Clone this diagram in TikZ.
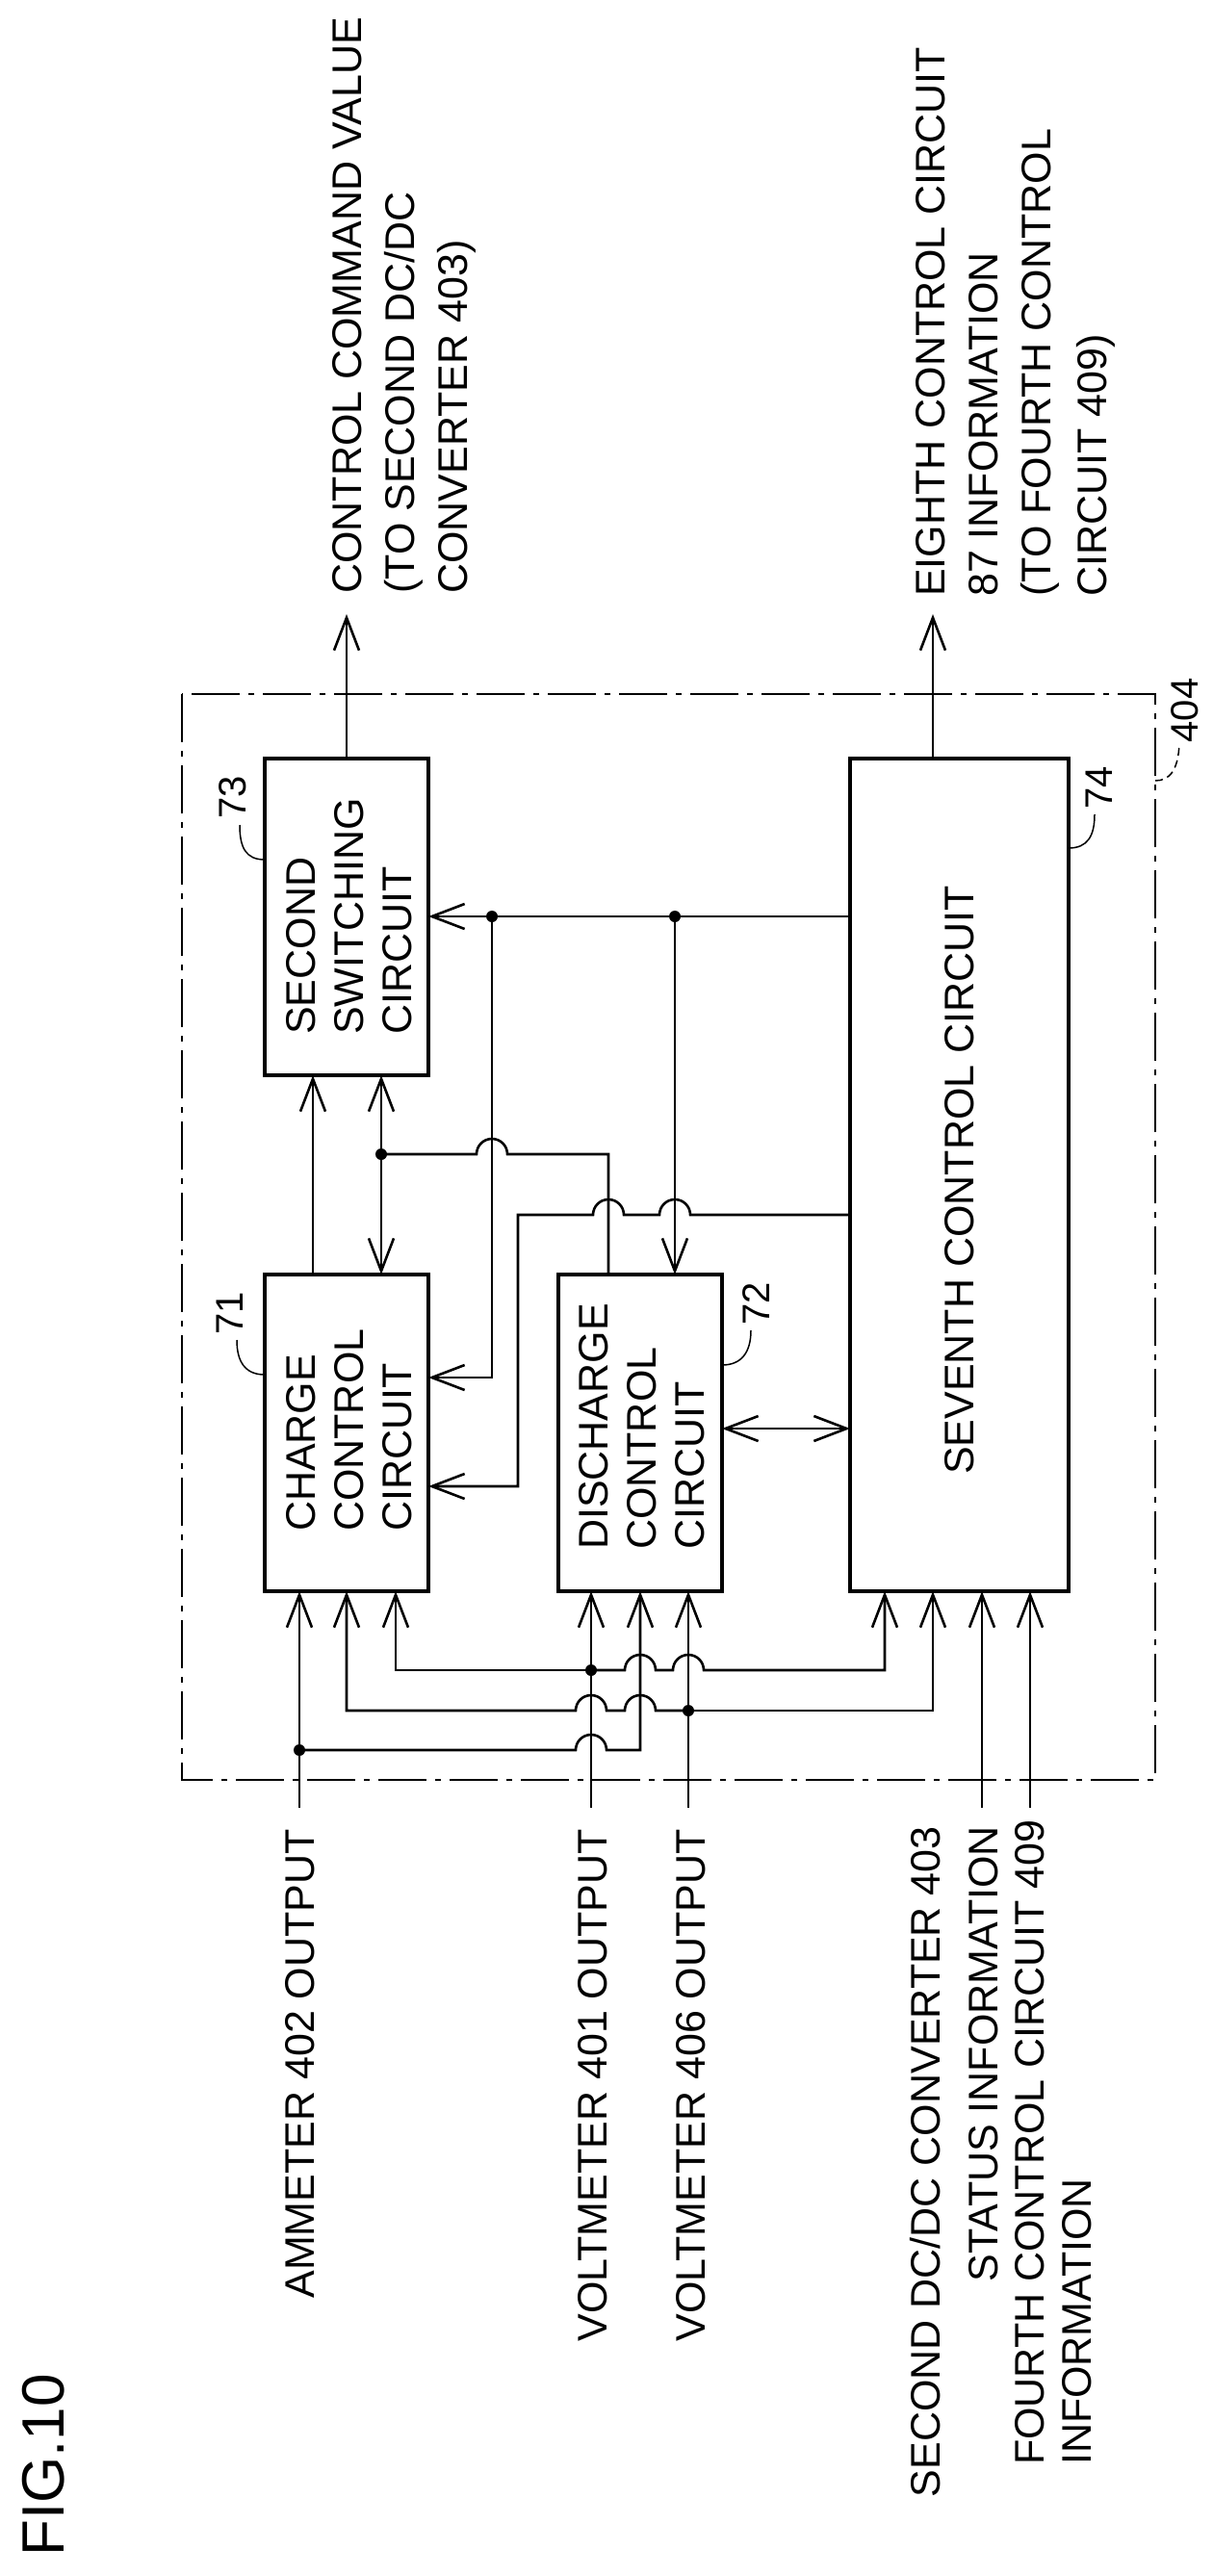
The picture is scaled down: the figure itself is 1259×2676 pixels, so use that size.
\documentclass[tikz,border=0pt]{standalone}
\usepackage{fontspec}
\setmainfont{Liberation Sans}
\usetikzlibrary{arrows.meta}
\begin{document}
\begin{tikzpicture}[x=1pt,y=1pt,
  ln/.style={line width=2.6pt},
  ar/.style={ln,-{Straight Barb[length=34pt,width=26pt,line width=2.6pt]}},
  dar/.style={ln,{Straight Barb[length=34pt,width=26pt,line width=2.6pt]}-{Straight Barb[length=34pt,width=26pt,line width=2.6pt]}},
  box/.style={draw,line width=3.5pt,minimum width=170pt,minimum height=329pt,inner sep=0},
  txt/.style={font=\fontsize{43}{57}\selectfont,rotate=90,inner sep=0},
  btxt/.style={font=\fontsize{43}{50}\selectfont,rotate=90,inner sep=0,align=left},
  lbl/.style={font=\fontsize{40}{48}\selectfont,rotate=90,inner sep=0},
  dot/.style={circle,fill,inner sep=0,minimum size=12pt}]
\useasboundingbox (0,0) rectangle (1259,-2676);
% frame
\draw[line width=2pt,dash pattern=on 50pt off 9pt on 6pt off 9pt] (189,-721) rectangle (1200,-1849);
% boxes
\node[box] (b73) at (360,-952.5) {};
\node[box] (b71) at (360,-1488.5) {};
\node[box] (b72) at (665,-1488.5) {};
\node[box,minimum width=227pt,minimum height=865pt] (b74) at (996.5,-1220.5) {};
\node[btxt,anchor=west] (t73) at (363,-1075) {SECOND\\SWITCHING\\CIRCUIT};
\node[btxt,anchor=west] (t71) at (363,-1591) {CHARGE\\CONTROL\\CIRCUIT};
\node[btxt,anchor=west] (t72) at (667,-1610) {DISCHARGE\\CONTROL\\CIRCUIT};
\node[btxt] (t74) at (997,-1226) {SEVENTH CONTROL CIRCUIT};
% ref labels
\node[lbl] (l73) at (242,-828) {73};
\draw[line width=1.5pt] (275,-893) .. controls (255,-893) and (249,-880) .. (249,-857);
\node[lbl] (l71) at (239,-1364) {71};
\draw[line width=1.5pt] (275,-1428) .. controls (255,-1428) and (246,-1415) .. (246,-1392);
\node[lbl] (l72) at (786,-1354) {72};
\draw[line width=1.5pt] (750,-1418) .. controls (770,-1418) and (780,-1405) .. (780,-1382);
\node[lbl] (l74) at (1142,-818) {74};
\draw[line width=1.5pt] (1110,-881) .. controls (1130,-881) and (1137,-868) .. (1137,-846);
\node[lbl] (l404) at (1231,-738) {404};
\draw[line width=1.5pt,dash pattern=on 8pt off 5pt] (1200,-811) .. controls (1215,-811) and (1224,-800) .. (1225,-772);
% outputs
\coordinate (o73) at (360,-638);
\coordinate (o74) at (969,-638);
\draw[ar] (b73.north) -- (o73);
\draw[ar] (969,-788) -- (o74);
\node[txt,anchor=west] (ot1) at (361,-617) {CONTROL COMMAND VALUE};
\node[txt,anchor=west] (ot2) at (419,-617) {(TO SECOND DC/DC};
\node[txt,anchor=west] (ot3) at (474,-617) {CONVERTER 403)};
\node[txt,anchor=west] (et1) at (967,-620) {EIGHTH CONTROL CIRCUIT};
\node[txt,anchor=west] (et2) at (1022,-620) {87 INFORMATION};
\node[txt,anchor=west] (et3) at (1080,-620) {(TO FOURTH CONTROL};
\node[txt,anchor=west] (et4) at (1138,-620) {CIRCUIT 409)};
% internal top
\coordinate (j1) at (511,-952);
\coordinate (j2) at (701,-952);
\draw[ar] (883,-952) -- (445,-952);
\node[dot] at (j1) {};
\node[dot] at (j2) {};
\draw[ar] (j1) -- (511,-1431) -- (445,-1431);
\draw[ar] (j2) -- (701,-1324);
\draw[ar] (325,-1324) -- (325,-1117);
\draw[dar] (396,-1117) -- (396,-1324);
\coordinate (j3) at (396,-1199);
\node[dot] at (j3) {};
\draw[ln] (j3) -- (495,-1199) arc[start angle=180,end angle=0,radius=16] -- (632,-1199) -- (632,-1324);
\draw[ar] (883,-1262) -- (717,-1262) arc[start angle=0,end angle=180,radius=16] -- (648,-1262) arc[start angle=0,end angle=180,radius=16] -- (538,-1262) -- (538,-1544) -- (445,-1544);
\draw[dar] (750,-1484) -- (883,-1484);
% bottom
\draw[ar] (311,-1878) -- (311,-1653);
\coordinate (j4) at (311,-1818);
\node[dot] at (j4) {};
\draw[ar] (j4) -- (598,-1818) arc[start angle=180,end angle=0,radius=16] -- (665,-1818) -- (665,-1653);
\draw[ar] (614,-1878) -- (614,-1653);
\coordinate (j5) at (614,-1735);
\node[dot] at (j5) {};
\draw[ar] (j5) -- (411,-1735) -- (411,-1653);
\draw[ar] (j5) -- (649,-1735) arc[start angle=180,end angle=0,radius=16] -- (699,-1735) arc[start angle=180,end angle=0,radius=16] -- (919,-1735) -- (919,-1653);
\draw[ar] (715,-1878) -- (715,-1653);
\coordinate (j6) at (715,-1777);
\node[dot] at (j6) {};
\draw[ar] (j6) -- (681,-1777) arc[start angle=0,end angle=180,radius=16] -- (630,-1777) arc[start angle=0,end angle=180,radius=16] -- (360,-1777) -- (360,-1653);
\draw[ar] (j6) -- (969,-1777) -- (969,-1653);
\draw[ar] (1020,-1878) -- (1020,-1653);
\draw[ar] (1070,-1878) -- (1070,-1653);
% input labels
\node[txt,anchor=east] (i1) at (312,-1900) {AMMETER 402 OUTPUT};
\node[txt,anchor=east] (i2) at (616,-1900) {VOLTMETER 401 OUTPUT};
\node[txt,anchor=east] (i3) at (718,-1900) {VOLTMETER 406 OUTPUT};
\node[txt,anchor=east] (i4) at (961,-1897) {SECOND DC/DC CONVERTER 403};
\node[txt,anchor=east] (i5) at (1022,-1897) {STATUS INFORMATION};
\node[txt,anchor=west] (i6) at (1070,-2561) {FOURTH CONTROL CIRCUIT 409};
\node[txt,anchor=west] (i7) at (1119,-2561) {INFORMATION};
\node[rotate=90,inner sep=0,font=\fontsize{62}{70}\selectfont,anchor=west] (fig) at (45,-2656) {FIG.10};
\end{tikzpicture}
\end{document}
